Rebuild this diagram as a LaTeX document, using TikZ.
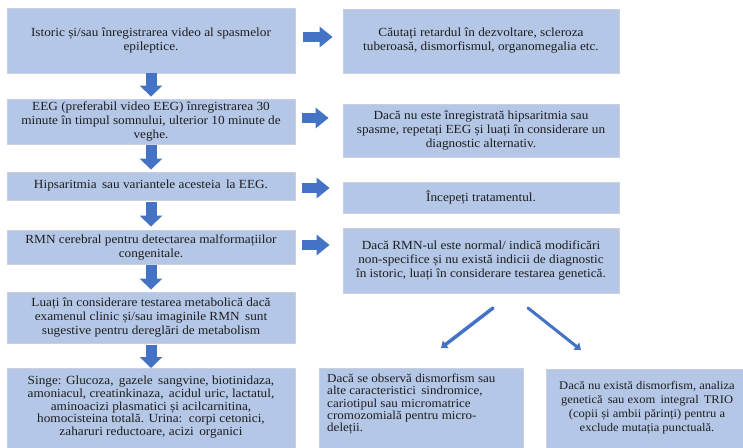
\documentclass[tikz,border=0pt]{standalone}
\usepackage{fontspec}
\setmainfont{Liberation Serif}[FakeStretch=1.07]
\usetikzlibrary{arrows.meta,calc}
\definecolor{boxfill}{RGB}{180,199,231}
\definecolor{boxline}{RGB}{200,208,222}
\definecolor{arrowblue}{RGB}{68,114,196}
\definecolor{txt}{RGB}{30,30,30}
\tikzset{
  box/.style={fill=boxfill, draw=boxline, line width=0.8pt, inner sep=0pt, align=center, text=txt,
    font=\fontsize{12.4}{14}\selectfont},
  plain/.style={inner sep=0pt, text=txt, font=\fontsize{12.4}{12.7}\selectfont},
  blkr/.style={arrowblue, line width=10pt, -{Triangle[width=20pt,length=13pt]}},
  blkd/.style={arrowblue, line width=11pt, -{Triangle[width=22pt,length=11pt]}},
  diag/.style={arrowblue, line width=3.5pt, line cap=round, -{Triangle[width=9pt,length=6pt]}}
}
\begin{document}
\begin{tikzpicture}[x=1pt,y=-1pt]
\useasboundingbox (0,0) rectangle (743,447);
\clip (0,0) rectangle (743,447);
\fill[white] (0,0) rectangle (743,447);
% left column
\node[box, minimum width=288pt, minimum height=65pt] (L1) at (151,40.5)
  {Istoric și/sau înregistrarea video al spasmelor\\epileptice.};
\node[box, minimum width=288pt, minimum height=45pt] (L2) at (151,121.5)
  {EEG (preferabil video EEG) înregistrarea 30\\minute în timpul somnului, ulterior 10 minute de\\veghe.};
\node[box, minimum width=288pt, minimum height=28pt] (L3) at (151,186)
  {Hipsaritmia\, sau variantele acesteia\, la EEG.};
\node[box, minimum width=288pt, minimum height=34pt] (L4) at (151,247)
  {RMN cerebral pentru detectarea malformațiilor\\congenitale.};
\node[box, minimum width=288pt, minimum height=51pt] (L5) at (151,317.5)
  {Luați în considerare testarea metabolică dacă\\examenul clinic și/sau imaginile RMN\, sunt\\sugestive pentru dereglări de metabolism};
\node[box, minimum width=288pt, minimum height=100pt, anchor=north] (L6) at (151,368) {};
\node[plain, align=center, anchor=north] (L6t) at (151,376)
  {Singe: Glucoza,\, gazele\, sangvine, biotinidaza,\\amoniacul, creatinkinaza,\, acidul uric, lactatul,\\aminoacizi plasmatici și acilcarnitina,\\homocisteina totală. Urina:\, corpi cetonici,\\zaharuri reductoare, acizi\, organici};
% right column
\node[box, minimum width=276pt, minimum height=64pt] (R1) at (481,41)
  {Căutați retardul în dezvoltare, scleroza\\tuberoasă, dismorfismul, organomegalia etc.};
\node[box, minimum width=276pt, minimum height=53pt] (R2) at (481,130.5)
  {Dacă nu este înregistrată hipsaritmia sau\\spasme, repetați EEG și luați în considerare un\\diagnostic alternativ.};
\node[box, minimum width=276pt, minimum height=31pt] (R3) at (481,197.5)
  {Începeți tratamentul.};
\node[box, minimum width=276pt, minimum height=65pt] (R4) at (481,260.5)
  {Dacă RMN-ul este normal/ indică modificări\\non-specifice și nu există indicii de diagnostic\\în istoric, luați în considerare testarea genetică.};
% bottom boxes
\node[box, minimum width=204pt, minimum height=100pt, anchor=north west] (M) at (319,368) {};
\node[plain, align=left, font=\fontsize{12.2}{12.2}\selectfont, anchor=north west] (Mt) at (327,374)
  {Dacă se observă dismorfism sau\\alte caracteristici\, sindromice,\\cariotipul sau micromatrice\\cromozomială pentru micro-\\deleții.};
\node[box, minimum width=212pt, minimum height=100pt, anchor=north west] (BR) at (546,369) {};
\node[plain, align=center, font=\fontsize{11.7}{14}\selectfont, anchor=north] (BRt) at (647,381)
  {Dacă nu există dismorfism, analiza\\genetică\, sau exom\, integral\, TRIO\\(copii și ambii părinți) pentru a\\exclude mutația punctuală.};
% right block arrows
\draw[blkr] ([xshift=8pt,yshift=3.5pt]L1.east) -- ([xshift=-10pt,yshift=3.5pt]L1.east -| R1.west);
\draw[blkr] ([xshift=7pt,yshift=3.5pt]L2.east) -- ([xshift=-14pt,yshift=3.5pt]L2.east -| R2.west);
\draw[blkr] ([xshift=7pt,yshift=-2pt]L3.east) -- ([xshift=-13pt,yshift=-2pt]L3.east -| R3.west);
\draw[blkr] ([xshift=7pt,yshift=2pt]L4.east) -- ([xshift=-13pt,yshift=2pt]L4.east -| R4.west);
% down block arrows
\draw[blkd] ([yshift=0pt]L1.south) -- ([yshift=2pt]L2.north);
\draw[blkd] ([yshift=-1pt]L2.south) -- ([yshift=2pt]L3.north);
\draw[blkd] ([yshift=-2pt]L3.south) -- ([yshift=3pt]L4.north);
\draw[blkd] ([yshift=-1pt]L4.south) -- ([yshift=2pt]L5.north);
\draw[blkd] ([yshift=-2pt]L5.south) -- ([yshift=0pt]L6.north);
% diagonal arrows
\coordinate (d1s) at (493,308);
\coordinate (d1e) at (441,348);
\coordinate (d2s) at (528,308);
\coordinate (d2e) at (581,350);
\draw[diag] (d1s) -- (d1e);
\draw[diag, line width=3pt] (d2s) -- (d2e);
\end{tikzpicture}
\end{document}
